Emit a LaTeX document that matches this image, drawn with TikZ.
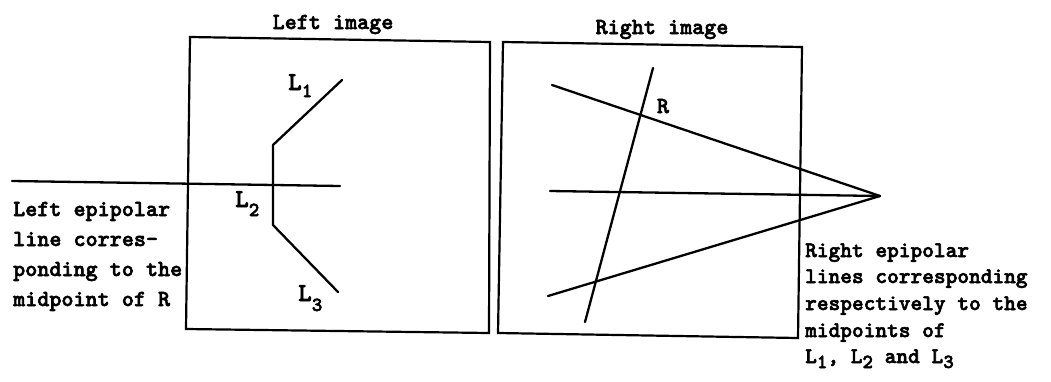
\documentclass[tikz,border=0pt]{standalone}
\usepackage{fontspec}
\newfontfamily\tw{lmmonolt10-bold.otf}[FakeBold=2.5]
\newcommand{\sbx}[2]{\raisebox{-#1pt}{\fontsize{20}{20}\selectfont #2}}
\begin{document}
\begin{tikzpicture}[x=1pt,y=-1pt, line width=2.3pt, line join=round, line cap=round,
  lbl/.style={inner sep=0pt, anchor=base west, font=\tw\fontsize{23}{26}\selectfont},
  rlbl/.style={inner sep=0pt, anchor=base west, font=\tw\fontsize{22.3}{26}\selectfont},
  ttl/.style={inner sep=0pt, anchor=base, font=\tw\fontsize{23}{26}\selectfont},
  lname/.style={inner sep=0pt, anchor=base west, font=\tw\fontsize{26}{26}\selectfont},
  frame/.style={line width=2.2pt, line join=miter, line cap=butt}]
\useasboundingbox (0,0) rectangle (1051,381);
% corners of the two image frames
\coordinate (LTL) at (190,37);
\coordinate (LTR) at (490,42);
\coordinate (LBR) at (489,333);
\coordinate (LBL) at (186,329);
\coordinate (RTL) at (503,42);
\coordinate (RTR) at (802,47);
\coordinate (RBR) at (798,338);
\coordinate (RBL) at (498,333);
\draw[frame] (LTL) -- (LTR) -- (LBR) -- (LBL) -- cycle;
\draw[frame] (RTL) -- (RTR) -- (RBR) -- (RBL) -- cycle;
% titles
\node[ttl] (tl) at (333,29) {Left image};
\node[ttl] (tr) at (662,34) {Right image};
% left image: edge chain and epipolar line
\coordinate (a1) at (342,80);
\coordinate (a2) at (273,145);
\coordinate (a3) at (273,225);
\coordinate (a4) at (338,292);
\draw (a1) -- (a2) -- (a3) -- (a4);
\coordinate (e1) at (12,181);
\coordinate (e2) at (340,186);
\draw (e1) -- (e2);
\node[lname] (L1) at (287,90) {L\sbx{7}{1}};
\node[lname] (L2) at (234,207) {L\sbx{9}{2}};
\node[lname] (L3) at (297,301) {L\sbx{10}{3}};
% right image
\coordinate (apex) at (880,196);
\coordinate (t1) at (552,85);
\coordinate (m1) at (550,191);
\coordinate (b1) at (548,296);
\coordinate (s1) at (653,68);
\coordinate (s2) at (585,322);
\draw (t1) -- (apex);
\draw (m1) -- (apex);
\draw (b1) -- (apex);
\draw (s1) -- (s2);
\node[ttl] (R) at (663,113) {R};
% captions
\node[lbl] (c1) at (12,216) {Left epipolar};
\node[lbl] (c2) at (12,246) {line corres-};
\node[lbl] (c3) at (12,276) {ponding to the};
\node[lbl] (c4) at (12,306) {midpoint of R};
\node[rlbl] (d1) at (804,257) {Right epipolar};
\node[rlbl] (d2) at (804,283) {lines corresponding};
\node[rlbl] (d3) at (804,310) {respectively to the};
\node[rlbl] (d4) at (804,337) {midpoints of};
\node[rlbl] (d5) at (804,363) {L\sbx{5}{1}, L\sbx{5}{2} and L\sbx{5}{3}};
\end{tikzpicture}
\end{document}
